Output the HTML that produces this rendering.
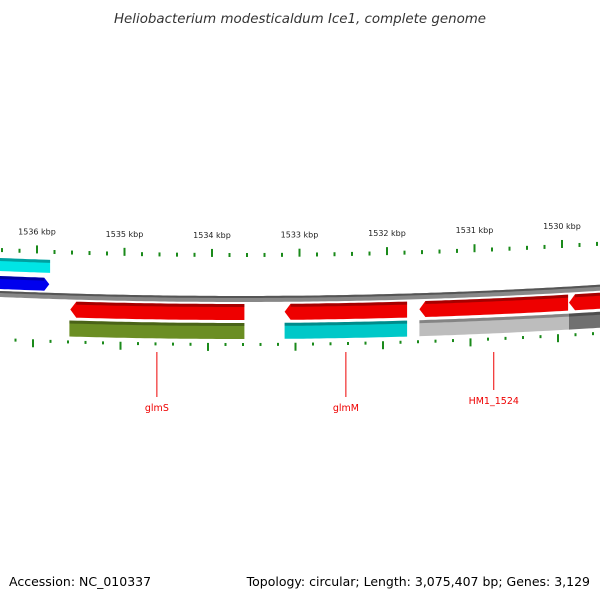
<!DOCTYPE html>
<html><head><meta charset="utf-8"><style>
body{margin:0;background:#fff;}
svg{display:block;font-family:"DejaVu Sans","Liberation Sans",sans-serif;}
</style></head><body>
<svg id="c" width="600" height="600" viewBox="0 0 600 600">
<text x="300" y="23" text-anchor="middle" font-size="13.4" font-style="italic" fill="#333">Heliobacterium modesticaldum Ice1, complete genome</text>
<text x="9" y="586" font-size="12.5" fill="#000">Accession: NC_010337</text>
<text x="590" y="586" text-anchor="end" font-size="12.5" fill="#000">Topology: circular; Length: 3,075,407 bp; Genes: 3,129</text>
<g id="marks"></g>
</svg>
<script>
const tickKbp=[1536,1535,1534,1533,1532,1531,1530];
const geneStart=[1536.6,1536.6,1535.62,1533.17,1531.63,1529.92];
const geneEnd=[1535.85,1535.86,1533.63,1531.77,1529.93,1529.0];
const geneRow=["top1","top2","bot1","bot1","bot1","bot1"];
const geneDir=[0,1,-1,-1,-1,-1];
const geneColor=["#00e5e5","#0000ee","#ee0000","#ee0000","#ee0000","#ee0000"];
const cdsStart=[1535.63,1533.17,1531.63,1529.92];
const cdsEnd=[1533.63,1531.77,1529.92,1529.0];
const cdsColor=["#6b8e23","#00c8c8","#bdbdbd","#707070"];
const labelNames=["glmS","glmM","HM1_1524"];
const labelKbp=[1534.63,1532.47,1530.78];
const labelY=[408,408,401];

const NS="http://www.w3.org/2000/svg";
const g=document.getElementById('marks');
function X(k){return 37+(1536-k)*87.5;}
function C(x){return 299-8.7e-5*(x-240)*(x-240);}
function mk(t,a){const e=document.createElementNS(NS,t);for(const k in a)e.setAttribute(k,a[k]);g.appendChild(e);return e;}
function band(x1,x2,o1,o2){let p=[];for(let x=x1;x<=x2;x+=4)p.push([x,C(x)+o1]);p.push([x2,C(x2)+o1]);let q=[];for(let x=x2;x>=x1;x-=4)q.push([x,C(x)+o2]);q.push([x1,C(x1)+o2]);return p.concat(q);}
function pts(a){return a.map(p=>p[0].toFixed(1)+','+p[1].toFixed(1)).join(' ');}
let bb=mk('polygon',{points:pts(band(-5,605,-3,3)),fill:'#888'});


let bb2=mk('polygon',{points:pts(band(-5,605,-3,-1)),fill:'#555'});


for(let k=1536.6;k>=1529.0;k-=0.2){
  const kk=Math.round(k*5)/5;const x=X(kk);const major=Math.abs(kk-Math.round(kk))<0.01;
  const t=mk('line',{x1:x,x2:x,y1:C(x)-(major?50:46),y2:C(x)-42,stroke:'#1a8a1a','stroke-width':2});
  
  
  const xb=x-4;
  const b=mk('line',{x1:xb,x2:xb,y1:C(xb)+44,y2:C(xb)+(major?52:47),stroke:'#1a8a1a','stroke-width':2});
  
  
}
tickKbp.forEach(k=>{const x=X(k);const t=mk('text',{x:x,y:C(x)-61,'text-anchor':'middle','font-size':8,fill:'#222'});t.textContent=k+' kbp';
  
  });
const rows={top1:[-36,-23],top2:[-18,-5],bot1:[5,21]};
geneStart.forEach((s,i)=>{
  let x1=Math.max(-5,X(s)),x2=Math.min(605,X(geneEnd[i]));const [o1,o2]=rows[geneRow[i]];
  let poly=band(x1,x2,o1,o2);
  const d=geneDir[i];
  if(d===1){const m=(o1+o2)/2;poly=band(x1,x2-5,o1,o2);poly.splice(Math.ceil((x2-5-x1)/4)+1,0,[x2,C(x2)+m]);}
  if(d===-1){const m=(o1+o2)/2;poly=band(x1+6,x2,o1,o2);poly.push([x1,C(x1)+m]);}
  const p=mk('polygon',{points:pts(poly),fill:geneColor[i]});
  
  
  const h=mk('polygon',{points:pts(band(x1+(d===-1?6:0),x2-(d===1?5:0),o1,o1+3)),fill:'rgba(0,0,0,0.3)'});
  
  
});
cdsStart.forEach((s,i)=>{
  const x1=X(s),x2=Math.min(605,X(cdsEnd[i]));
  const p=mk('polygon',{points:pts(band(x1,x2,24,40)),fill:cdsColor[i]});
  
  
  const h=mk('polygon',{points:pts(band(x1,x2,24,27)),fill:'rgba(0,0,0,0.3)'});
  
  
});
labelNames.forEach((n,i)=>{const x=X(labelKbp[i]);
  const l=mk('line',{x1:x,x2:x,y1:352,y2:labelY[i]-11,stroke:'#e00','stroke-width':1});
  
  
  const t=mk('text',{x:x,y:labelY[i]+3,'text-anchor':'middle','font-size':9.5,fill:'#e00'});t.textContent=n;
  
  });
</script>
</body></html>
